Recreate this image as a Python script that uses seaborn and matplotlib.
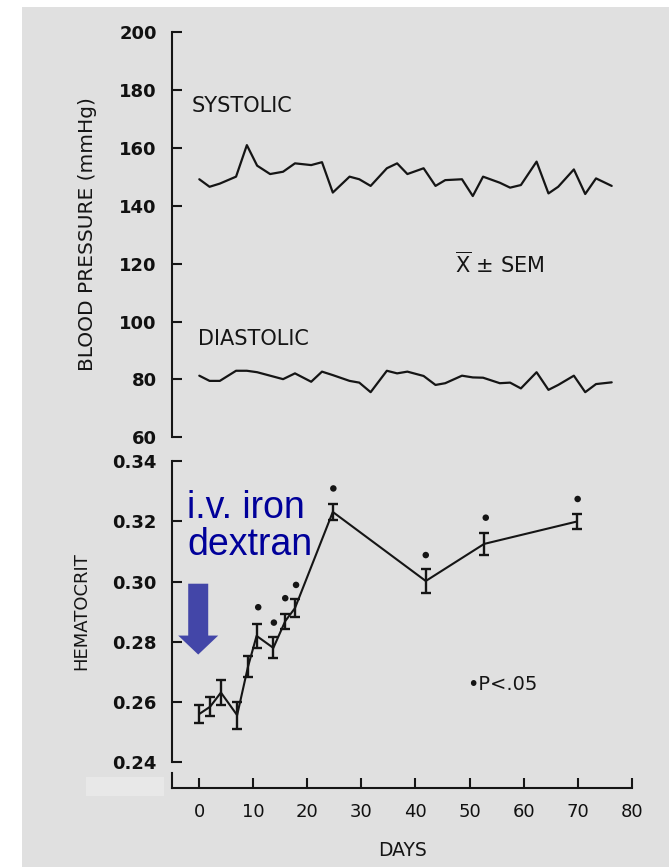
import matplotlib
matplotlib.use("Agg")
import matplotlib.pyplot as plt
import seaborn as sns
import pandas as pd
from matplotlib.patches import Rectangle

# ---------------- data ----------------
bp_days = [0, 1.9, 3.8, 6.8, 8.8, 10.7, 13.1, 15.5, 17.7, 20.7, 22.7, 24.7,
           27.8, 29.6, 31.7, 34.7, 36.6, 38.5, 41.5, 43.7, 45.5, 48.6, 50.6,
           52.5, 55.6, 57.5, 59.5, 62.4, 64.6, 66.4, 69.3, 71.4, 73.4, 76.3]
systolic = [149.2, 146.6, 147.7, 150.1, 161.0, 153.9, 151.0, 151.8, 154.7,
            154.1, 155.1, 144.6, 150.1, 149.2, 146.9, 153.0, 154.7, 151.0,
            153.0, 146.9, 148.9, 149.2, 143.4, 150.1, 148.0, 146.3, 147.2,
            155.3, 144.3, 146.6, 152.6, 144.1, 149.5, 146.9]
diastolic = [81.3, 79.5, 79.5, 83.0, 83.0, 82.5, 81.3, 80.1, 82.1, 79.2,
             82.7, 81.5, 79.5, 78.9, 75.6, 83.0, 82.1, 82.7, 81.2, 78.1,
             78.7, 81.3, 80.7, 80.6, 78.7, 78.9, 76.9, 82.5, 76.4, 78.1,
             81.3, 75.6, 78.4, 79.0]

hct_days = [0, 2, 4, 7, 9, 10.6, 13.7, 15.9, 17.7, 24.7, 41.9, 52.7, 69.8]
hct_mean = [0.2561, 0.2585, 0.2632, 0.2557, 0.2717, 0.2820, 0.2780, 0.2869,
            0.2912, 0.3231, 0.3002, 0.3125, 0.3199]
hct_sem = [0.0030, 0.0032, 0.0040, 0.0045, 0.0035, 0.0040, 0.0035, 0.0025,
           0.0029, 0.0028, 0.0040, 0.0037, 0.0025]
sig_days = [10.9, 13.8, 15.9, 17.9, 24.8, 41.9, 53.0, 70.0]
sig_y = [0.2915, 0.2864, 0.2945, 0.2989, 0.3309, 0.3088, 0.3212, 0.3274]

bp_ticks = [60, 80, 100, 120, 140, 160, 180, 200]
hct_ticks = [0.24, 0.26, 0.28, 0.30, 0.32, 0.34]
day_ticks = [0, 10, 20, 30, 40, 50, 60, 70, 80]

# ---------------- figure ----------------
sns.set_theme(style="white")
plt.rcParams['font.family'] = ['DejaVu Sans']

W, H = 669, 867
fig = plt.figure(figsize=(W / 100, H / 100), dpi=100)
fig.patch.set_facecolor('white')
fig.patches.append(Rectangle((22 / W, 0), 1 - 22 / W, 1 - 7 / H,
                             transform=fig.transFigure, facecolor='#e0e0e0',
                             edgecolor='none', zorder=-10))
fig.patches.append(Rectangle((86 / W, 1 - 796 / H), 78 / W, 19 / H,
                             transform=fig.transFigure, facecolor='#e8e8e8',
                             edgecolor='none', zorder=-9))

ink = '#151515'
left = 172 / W
width = (631.7 - 172) / W
xlim = (-5.05, 80)


def px_box(top_px, bot_px):
    return [left, 1 - bot_px / H, width, (bot_px - top_px) / H]


ax1 = fig.add_axes(px_box(32.3, 437.3))
ax2 = fig.add_axes(px_box(461, 762.5))
ax3 = fig.add_axes(px_box(773, 788))

for ax in (ax1, ax2, ax3):
    ax.set_facecolor('none')
    ax.set_xlim(*xlim)
    for s in ('top', 'right', 'bottom', 'left'):
        ax.spines[s].set_visible(False)
    ax.spines['left'].set_color(ink)
    ax.spines['left'].set_linewidth(1.5)

for ax in (ax1, ax2):
    ax.spines['left'].set_visible(True)
    ax.set_xticks([])
    ax.tick_params(axis='y', direction='in', length=7, width=1.5,
                   color=ink, labelsize=13, pad=11, labelcolor='#111111',
                   left=True)

# --- blood pressure ---
bp = pd.DataFrame({'day': bp_days, 'sys': systolic, 'dia': diastolic})
sns.lineplot(data=bp, x='day', y='sys', ax=ax1, color=ink, lw=1.6)
sns.lineplot(data=bp, x='day', y='dia', ax=ax1, color=ink, lw=1.6)
ax1.set_ylim(60, 200)
ax1.set_yticks(bp_ticks)
ax1.set_yticklabels([str(t) for t in bp_ticks], fontweight='bold')
ax1.set_xlim(*xlim)
ax1.set_xlabel('')
ax1.set_ylabel('')
ax1.text(-1.35, 174.5, 'SYSTOLIC', fontsize=15, va='center', ha='left', color=ink)
ax1.text(-0.24, 94.0, 'DIASTOLIC', fontsize=15, va='center', ha='left', color=ink)
ax1.text(47.3, 119.9, r'$\overline{\mathrm{X}}$ ± SEM', fontsize=15,
         va='center', ha='left', color=ink)

# --- hematocrit ---
hc = pd.DataFrame({'day': hct_days, 'hct': hct_mean, 'sem': hct_sem})
sns.lineplot(data=hc, x='day', y='hct', ax=ax2, color=ink, lw=1.5)
ax2.errorbar(hc['day'], hc['hct'], yerr=hc['sem'], fmt='none', ecolor=ink,
             elinewidth=1.7, capsize=3.6, capthick=1.7)
sig = pd.DataFrame({'day': sig_days, 'y': sig_y})
sns.scatterplot(data=sig, x='day', y='y', ax=ax2, color=ink, s=22,
                edgecolor='none')
ax2.set_ylim(0.24, 0.34)
ax2.set_yticks(hct_ticks)
ax2.set_yticklabels([f'{t:.2f}' for t in hct_ticks], fontweight='bold')
ax2.set_xlim(*xlim)
ax2.set_xlabel('')
ax2.set_ylabel('')
ax2.text(49.5, 0.2660, '•P<.05', fontsize=14, va='center', ha='left', color=ink)

ax2.annotate('', xy=(-0.2, 0.2758), xytext=(-0.2, 0.2993),
             arrowprops=dict(arrowstyle='simple,head_length=0.95,head_width=2.0,tail_width=1.0',
                             mutation_scale=14.4, color='#4346a8',
                             shrinkA=0, shrinkB=0, lw=0))
ax2.text(-2.28, 0.3304, 'i.v. iron\ndextran', fontsize=27, va='top', ha='left',
         color='#00009a', family=['Liberation Sans', 'DejaVu Sans'],
         linespacing=1.02)

# --- days axis ---
ax3.spines['bottom'].set_visible(True)
ax3.spines['left'].set_visible(True)
ax3.spines['bottom'].set_color(ink)
ax3.spines['bottom'].set_linewidth(1.5)
ax3.set_ylim(0, 1)
ax3.set_yticks([])
ax3.set_xticks(day_ticks)
ax3.set_xticklabels([str(t) for t in day_ticks])
ax3.tick_params(axis='x', direction='in', length=7, width=1.5, color=ink,
                labelsize=13, pad=11, labelcolor='#111111', bottom=True)

fig.text(402.5 / W, 1 - 851 / H, 'DAYS', fontsize=13.5, ha='center',
         va='center', color=ink)
fig.text(88 / W, 1 - 234 / H, 'BLOOD PRESSURE (mmHg)', fontsize=14.5,
         rotation=90, ha='center', va='center', color=ink)
fig.text(81 / W, 1 - 611.5 / H, 'HEMATOCRIT', fontsize=13, rotation=90,
         ha='center', va='center', color=ink)

fig.savefig('out.png', dpi=100, facecolor=fig.get_facecolor())
